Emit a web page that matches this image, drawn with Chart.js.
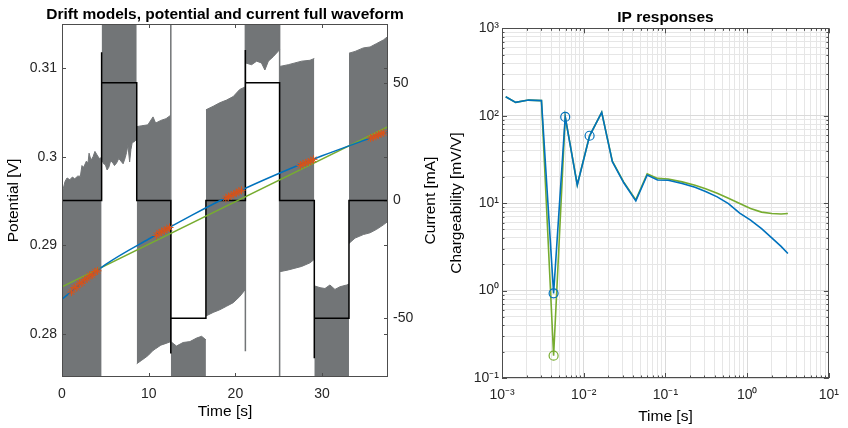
<!DOCTYPE html>
<html>
<head>
<meta charset="utf-8">
<script src="https://cdn.jsdelivr.net/npm/chart.js@4.4.1/dist/chart.umd.min.js"></script>
<style>
  html, body { margin: 0; padding: 0; background: #fff; overflow: hidden; width: 848px; height: 428px; }
  #wrap { position: relative; width: 848px; height: 428px; }
  #drift { position: absolute; left: 0; top: 0; }
  #ip { position: absolute; left: 440px; top: 0; }
</style>
</head>
<body>
<div id="wrap">
  <canvas id="drift" width="450" height="428"></canvas>
  <canvas id="ip" width="408" height="428"></canvas>
</div>
<script>
// ---------- Left panel: full-waveform record ----------
const timeTicks = [0, 10, 20, 30];
const potentialTicks = [0.28, 0.29, 0.30, 0.31];
const currentTicks = [-50, 0, 50];

// Potential record per half-period: upper and lower edge of the dense oscillation [V]
// (0.33 / 0.26 = the signal runs off the displayed range)
const segTime = [
  [0, 0.12, 0.35, 0.58, 0.9, 1.2, 1.47, 1.8, 2.12, 2.3, 2.5, 2.81, 3.0, 3.12, 3.35, 3.58, 3.8, 4.04, 4.3, 4.57],
  [4.57, 4.8, 5.0, 5.2, 5.4, 5.6, 5.8, 6.05, 6.3, 6.55, 6.8, 7.05, 7.3, 7.45, 7.6, 7.8, 7.95, 8.1, 8.35, 8.62],
  [8.62, 9.2, 9.9, 10.5, 10.8, 11.4, 12.0, 12.55],
  [12.55, 13.2, 13.97, 14.75, 15.52, 16.1, 16.6],
  [16.6, 17.44, 18.2, 18.98, 19.75, 20.5, 21.15],
  [21.15, 21.87, 22.45, 23.0, 23.4, 23.8, 24.36, 25.1],
  [25.1, 26.1, 26.87, 27.64, 28.6, 29.1],
  [29.1, 29.76, 30.33, 30.9, 31.48, 32.06, 32.83, 33.1],
  [33.1, 33.8, 34.76, 35.53, 36.3, 37.07, 37.6]
];
const segUpper = [
  [0.2960, 0.2963, 0.2972, 0.2976, 0.2974, 0.2977, 0.2975, 0.2978, 0.2978, 0.2990,
   0.2988, 0.2995, 0.2993, 0.3004, 0.2996, 0.3000, 0.3006, 0.3002, 0.2998, 0.2999],
  [0.33, 0.33, 0.33, 0.33, 0.33, 0.33, 0.33, 0.33, 0.33, 0.33,
   0.33, 0.33, 0.33, 0.33, 0.33, 0.33, 0.33, 0.33, 0.33, 0.33],
  [0.3034, 0.3035, 0.3036, 0.3045, 0.3038, 0.3041, 0.3043, 0.3047],
  [0.2791, 0.2786, 0.2790, 0.2791, 0.2795, 0.2797, 0.2793],
  [0.3053, 0.3057, 0.3061, 0.3064, 0.3068, 0.3076, 0.3079],
  [0.33, 0.33, 0.33, 0.33, 0.33, 0.33, 0.33, 0.33],
  [0.3102, 0.3104, 0.3106, 0.3108, 0.3109, 0.3111],
  [0.2854, 0.2852, 0.2851, 0.2855, 0.2850, 0.2853, 0.2855, 0.2856],
  [0.3117, 0.3119, 0.3123, 0.3124, 0.3128, 0.3132, 0.3136]
];
const segLower = [
  [0.26, 0.26, 0.26, 0.26, 0.26, 0.26, 0.26, 0.26, 0.26, 0.26,
   0.26, 0.26, 0.26, 0.26, 0.26, 0.26, 0.26, 0.26, 0.26, 0.26],
  [0.2997, 0.2992, 0.2991, 0.2985, 0.2988, 0.2995, 0.2994, 0.2990, 0.2993, 0.2998,
   0.2995, 0.2992, 0.2999, 0.3005, 0.3013, 0.2994, 0.3008, 0.3016, 0.3017, 0.3020],
  [0.2766, 0.2770, 0.2775, 0.2781, 0.2783, 0.2787, 0.2789, 0.2791],
  [0.26, 0.26, 0.26, 0.26, 0.26, 0.26, 0.26],
  [0.2820, 0.2824, 0.2827, 0.2831, 0.2835, 0.2842, 0.2850],
  [0.3106, 0.3104, 0.3108, 0.3106, 0.3098, 0.3108, 0.3113, 0.3121],
  [0.2870, 0.2872, 0.2874, 0.2876, 0.2880, 0.2884],
  [0.26, 0.26, 0.26, 0.26, 0.26, 0.26, 0.26, 0.26],
  [0.2902, 0.2908, 0.2912, 0.2914, 0.2918, 0.2923, 0.2927]
];

// Switching transients [s] and the potential range they sweep [V]
const spikeTime = [12.55, 21.15, 25.1];
const spikeLow = [0.2790, 0.2780, 0.26];
const spikeHigh = [0.33, 0.33, 0.33];

// Transmitted current [mA]
const currentTime = [0, 0, 4.57, 4.57, 4.57, 8.62, 8.62, 12.55, 12.55, 12.55, 16.6, 16.6,
                     21.15, 21.15, 21.15, 25.1, 25.1, 29.1, 29.1, 29.1, 33.1, 33.1, 37.6];
const currentValue = [50, 0, 0, 63, 50, 50, 0, 0, -65, -50, -50, 0,
                      0, 64, 50, 50, 0, 0, -67, -50, -50, 0, 0];

// Drift models [V]
const driftTime = [0, 5, 10, 15, 20, 25, 30, 35, 37.6];
const driftCurved = [0.2839, 0.2878, 0.2907, 0.2934, 0.2959, 0.2981, 0.3001, 0.3019, 0.3028];
const driftLinTime = [0, 37.6];
const driftLinear = [0.2853, 0.3034];

// Potential samples the drift models are fitted to
const fitTime = [1.1, 1.4, 1.7, 2.0, 2.3, 2.6, 2.9, 3.2, 3.5, 3.8, 4.1,
                 10.9, 11.2, 11.5, 11.8, 12.1, 12.4,
                 18.9, 19.2, 19.5, 19.8, 20.1, 20.4, 20.7,
                 27.5, 27.8, 28.1, 28.4, 28.7, 29.0,
                 35.6, 35.9, 36.2, 36.5, 36.8, 37.1];
const fitPotential = [0.2847, 0.2852, 0.2852, 0.2857, 0.2857, 0.2861, 0.2862, 0.2866, 0.2866, 0.2870, 0.2871,
                      0.2911, 0.2914, 0.2915, 0.2917, 0.2918, 0.2920,
                      0.2953, 0.2955, 0.2956, 0.2958, 0.2959, 0.2961, 0.2962,
                      0.2990, 0.2992, 0.2993, 0.2994, 0.2995, 0.2997,
                      0.3021, 0.3022, 0.3023, 0.3025, 0.3026, 0.3027];

// ---------- Right panel: IP responses ----------
const decadesX = [-3, 1];
const decadesY = [-1, 3];
const gateTime = [0.00111, 0.00147, 0.00211, 0.00304, 0.00428, 0.00594, 0.00834, 0.0118, 0.0166,
                  0.0224, 0.0309, 0.0434, 0.0598, 0.080, 0.108, 0.16, 0.23, 0.31, 0.43, 0.59,
                  0.81, 1.1, 1.5, 2.0, 2.6, 3.15];
const ipCurvedDrift = [165, 142, 151, 149, 0.93, 97, 16.1, 59, 109, 29.8, 17.1, 10.6, 21.0, 18.4,
                       18.3, 16.8, 15.2, 13.6, 11.8, 9.9, 7.7, 6.4, 5.1, 4.0, 3.2, 2.65];
const ipLinearDrift = [165, 142, 151, 149, 0.18, 97, 16.3, 59, 109, 30.3, 17.4, 10.9, 21.7, 19.2,
                       18.9, 17.5, 16.0, 14.6, 13.0, 11.4, 9.9, 8.7, 7.9, 7.6, 7.5, 7.6];
// gates flagged with a circle
const flaggedCurved = [4, 5, 7];
const flaggedLinear = [4];

// ---------- styling ----------
const GREY = '#727577';
const BLUE = '#0072BD';
const GREEN = '#77AC30';
const ORANGE = '#D95319';
const AXIS = '#262626';
const FONT = '"Liberation Sans", Arial, Helvetica, sans-serif';

Chart.defaults.font.family = FONT;
Chart.defaults.color = AXIS;

const pts = (xs, ys) => xs.map((x, i) => ({x: x, y: ys[i]}));
const isDecade = v => Math.abs(Math.log10(v) - Math.round(Math.log10(v))) < 1e-6;
const SUP = {'-': '\u207B', '0': '\u2070', '1': '\u00B9', '2': '\u00B2', '3': '\u00B3',
             '4': '\u2074', '5': '\u2075', '6': '\u2076', '7': '\u2077', '8': '\u2078', '9': '\u2079'};
const powLabel = v => '10' + String(Math.round(Math.log10(v))).split('').map(c => SUP[c]).join('');

function logTicks(range) {
  const out = [];
  for (let e = range[0]; e < range[1]; e++) {
    for (let m = 1; m < 10; m++) out.push({value: Number((m * Math.pow(10, e)).toPrecision(6))});
  }
  out.push({value: Math.pow(10, range[1])});
  return out;
}

// Box around the plot area with inward tick marks
const frameTicks = {
  id: 'frameTicks',
  afterDatasetsDraw(chart, _args, o) {
    const {ctx, chartArea: a} = chart;
    ctx.save();
    ctx.strokeStyle = o.color;
    ctx.lineWidth = 1;
    ctx.beginPath();
    for (const m of o.marks) {
      const sc = chart.scales[m.scale];
      for (const t of sc.ticks) {
        const len = (m.minor && !isDecade(t.value)) ? m.minor : m.len;
        const p = Math.round(sc.getPixelForValue(t.value)) + 0.5;
        for (const side of m.sides) {
          if (side === 'bottom') { ctx.moveTo(p, a.bottom); ctx.lineTo(p, a.bottom - len); }
          if (side === 'top') { ctx.moveTo(p, a.top); ctx.lineTo(p, a.top + len); }
          if (side === 'left') { ctx.moveTo(a.left, p); ctx.lineTo(a.left + len, p); }
          if (side === 'right') { ctx.moveTo(a.right, p); ctx.lineTo(a.right - len, p); }
        }
      }
    }
    ctx.stroke();
    ctx.strokeRect(Math.round(a.left) + 0.5, Math.round(a.top) + 0.5,
                   Math.round(a.right - a.left) - 1, Math.round(a.bottom - a.top) - 1);
    ctx.restore();
  }
};

// Center the chart title over the plot area (keeping the full canvas width for the text)
const centerTitle = {
  id: 'centerTitle',
  afterLayout(chart) {
    const t = chart.titleBlock;
    if (!t) return;
    const mid = (chart.chartArea.left + chart.chartArea.right) / 2;
    const half = chart.width / 2;
    t.left = mid - half;
    t.right = mid + half;
    t.width = chart.width;
  }
};

// Right-hand axis label, reading bottom to top
const sideLabel = {
  id: 'sideLabel',
  afterDraw(chart, _args, o) {
    if (!o.text) return;
    const {ctx, chartArea: a} = chart;
    ctx.save();
    ctx.font = o.size + 'px ' + FONT;
    ctx.fillStyle = '#000';
    ctx.textAlign = 'center';
    ctx.textBaseline = 'middle';
    ctx.translate(o.x, (a.top + a.bottom) / 2);
    ctx.rotate(-Math.PI / 2);
    ctx.fillText(o.text, 0, 0);
    ctx.restore();
  }
};

// ---------- left chart ----------
const leftSets = [];
segTime.forEach((ts, k) => {
  leftSets.push({
    data: pts(ts, segUpper[k]), yAxisID: 'y', borderColor: GREY, borderWidth: 1,
    pointRadius: 0, fill: false, order: 9
  });
  leftSets.push({
    data: pts(ts, segLower[k]), yAxisID: 'y', borderColor: GREY, borderWidth: 1,
    pointRadius: 0, fill: '-1', backgroundColor: GREY, order: 9
  });
});
const spikeData = [];
spikeTime.forEach((t, i) => {
  spikeData.push({x: t, y: spikeLow[i]}, {x: t, y: spikeHigh[i]}, {x: t, y: null});
});
leftSets.push({data: spikeData, yAxisID: 'y', borderColor: GREY, borderWidth: 1.5, pointRadius: 0, order: 8});
leftSets.push({data: pts(currentTime, currentValue), yAxisID: 'y1', borderColor: '#000',
               borderWidth: 1.5, pointRadius: 0, order: 5});
leftSets.push({data: pts(driftLinTime, driftLinear), yAxisID: 'y', borderColor: GREEN,
               borderWidth: 1.5, pointRadius: 0, order: 3});
leftSets.push({data: pts(driftTime, driftCurved), yAxisID: 'y', borderColor: BLUE,
               borderWidth: 1.5, pointRadius: 0, cubicInterpolationMode: 'monotone', order: 2});
leftSets.push({data: pts(fitTime, fitPotential), yAxisID: 'y', showLine: false,
               pointStyle: 'star', pointRadius: 4, pointBorderColor: ORANGE,
               pointBackgroundColor: ORANGE, pointBorderWidth: 1, order: 1});

new Chart(document.getElementById('drift'), {
  type: 'line',
  data: {datasets: leftSets},
  plugins: [frameTicks, centerTitle, sideLabel],
  options: {
    responsive: false,
    animation: false,
    events: [],
    devicePixelRatio: 1,
    layout: {padding: 0},
    plugins: {
      legend: {display: false},
      tooltip: {enabled: false},
      title: {
        display: true, text: 'Drift models, potential and current full waveform',
        color: '#000', font: {size: 15.5, weight: 'bold'}, padding: {top: 5.4, bottom: 0}
      },
      frameTicks: {
        color: '#4d4d4d',
        marks: [
          {scale: 'x', sides: ['bottom', 'top'], len: 4},
          {scale: 'y', sides: ['left', 'right'], len: 4},
          {scale: 'y1', sides: ['right'], len: 4}
        ]
      },
      sideLabel: {text: 'Current [mA]', x: 431, size: 15.5}
    },
    scales: {
      x: {
        type: 'linear', position: 'bottom', min: 0, max: 37.6,
        afterFit: s => { s.height = 51; },
        afterBuildTicks: s => { s.ticks = timeTicks.map(v => ({value: v})); },
        grid: {display: false, drawTicks: false}, border: {display: false},
        ticks: {font: {size: 14}, padding: 9, maxRotation: 0, autoSkip: false, callback: v => String(v)},
        title: {display: true, text: 'Time [s]', color: '#000', font: {size: 15.5}, padding: {top: 0, bottom: 6.7}}
      },
      y: {
        type: 'linear', position: 'left', min: 0.2751, max: 0.315,
        afterFit: s => { s.width = 62; },
        afterBuildTicks: s => { s.ticks = potentialTicks.map(v => ({value: v})); },
        grid: {display: false, drawTicks: false}, border: {display: false},
        ticks: {font: {size: 14}, padding: 5, autoSkip: false, callback: v => String(+v.toFixed(2))},
        title: {display: true, text: 'Potential [V]', color: '#000', font: {size: 15.5}, padding: {top: 4.7, bottom: 0}}
      },
      y1: {
        type: 'linear', position: 'right', min: -75, max: 75,
        afterFit: s => { s.width = 62; },
        afterBuildTicks: s => { s.ticks = currentTicks.map(v => ({value: v})); },
        grid: {display: false, drawTicks: false}, border: {display: false},
        ticks: {font: {size: 14}, padding: 5, autoSkip: false, callback: v => String(v)}
      }
    }
  }
});

// ---------- right chart ----------
new Chart(document.getElementById('ip'), {
  type: 'line',
  data: {
    datasets: [
      {data: pts(flaggedCurved.map(i => gateTime[i]), flaggedCurved.map(i => ipCurvedDrift[i])),
       showLine: false, pointStyle: 'circle', pointRadius: 4.5, pointBorderColor: BLUE,
       pointBackgroundColor: 'rgba(0,0,0,0)', pointBorderWidth: 1.2, order: 0},
      {data: pts(flaggedLinear.map(i => gateTime[i]), flaggedLinear.map(i => ipLinearDrift[i])),
       showLine: false, pointStyle: 'circle', pointRadius: 4.5, pointBorderColor: GREEN,
       pointBackgroundColor: 'rgba(0,0,0,0)', pointBorderWidth: 1.2, order: 0},
      {data: pts(gateTime, ipCurvedDrift), borderColor: BLUE, borderWidth: 1.6, pointRadius: 0, order: 1},
      {data: pts(gateTime, ipLinearDrift), borderColor: GREEN, borderWidth: 1.6, pointRadius: 0, order: 2}
    ]
  },
  plugins: [frameTicks, centerTitle],
  options: {
    responsive: false,
    animation: false,
    events: [],
    devicePixelRatio: 1,
    layout: {padding: {left: 0, right: 11.3, top: 0, bottom: 0}},
    plugins: {
      legend: {display: false},
      tooltip: {enabled: false},
      title: {
        display: true, text: 'IP responses', color: '#000',
        font: {size: 15.5, weight: 'bold'}, padding: {top: 8.7, bottom: 1}
      },
      frameTicks: {
        color: '#4d4d4d',
        marks: [
          {scale: 'x', sides: ['bottom', 'top'], len: 5, minor: 2.5},
          {scale: 'y', sides: ['left', 'right'], len: 5, minor: 2.5}
        ]
      }
    },
    scales: {
      x: {
        type: 'logarithmic', position: 'bottom',
        min: Math.pow(10, decadesX[0]), max: Math.pow(10, decadesX[1]),
        afterFit: s => { s.height = 50; },
        afterBuildTicks: s => { s.ticks = logTicks(decadesX); },
        grid: {drawTicks: false, lineWidth: 1,
               color: c => (c.tick && isDecade(c.tick.value)) ? '#dadada' : '#e6e6e6'},
        border: {display: false},
        ticks: {font: {size: 14}, padding: 9, maxRotation: 0, autoSkip: false,
                callback: v => isDecade(v) ? powLabel(v) : ''},
        title: {display: true, text: 'Time [s]', color: '#000', font: {size: 15.5}, padding: {top: 0, bottom: 1.7}}
      },
      y: {
        type: 'logarithmic', position: 'left',
        min: Math.pow(10, decadesY[0]), max: Math.pow(10, decadesY[1]),
        afterFit: s => { s.width = 62; },
        afterBuildTicks: s => { s.ticks = logTicks(decadesY); },
        grid: {drawTicks: false, lineWidth: 1,
               color: c => (c.tick && isDecade(c.tick.value)) ? '#dadada' : '#e6e6e6'},
        border: {display: false},
        ticks: {font: {size: 14}, padding: 3, autoSkip: false,
                callback: v => isDecade(v) ? powLabel(v) : ''},
        title: {display: true, text: 'Chargeability [mV/V]', color: '#000', font: {size: 15.5}, padding: {top: 7.7, bottom: 0}}
      }
    }
  }
});
</script>
</body>
</html>
